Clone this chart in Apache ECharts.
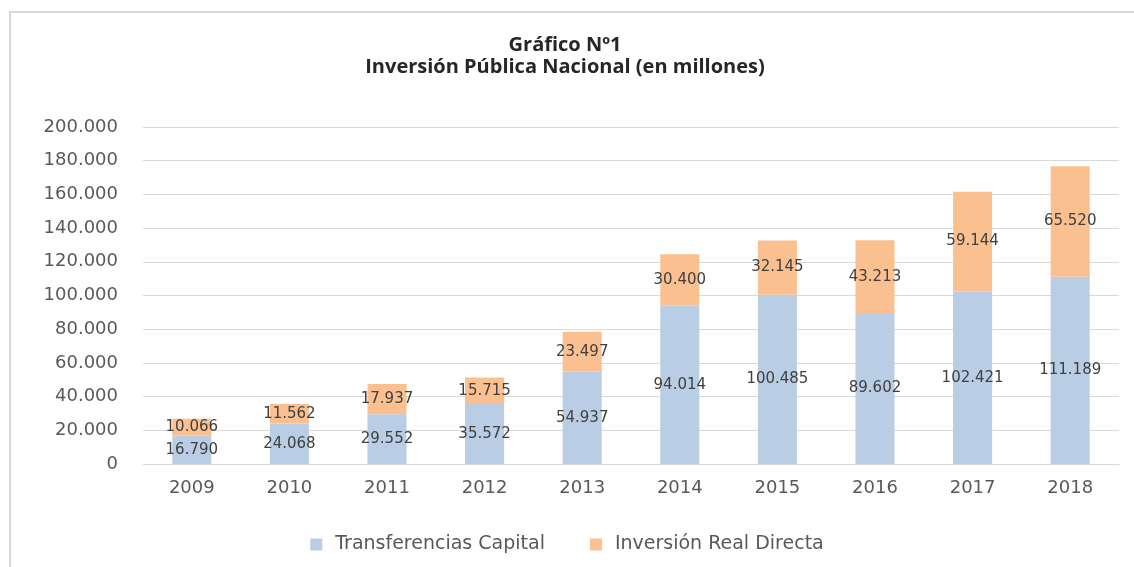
<!DOCTYPE html>
<html>
<head>
<meta charset="utf-8">
<script src="https://cdn.jsdelivr.net/npm/echarts@6/dist/echarts.min.js"></script>
<style>
html,body{margin:0;padding:0;background:#fff;}
#chart{width:1134px;height:567px;}
</style>
</head>
<body>
<div id="chart"></div>
<script>
var years = ['2009','2010','2011','2012','2013','2014','2015','2016','2017','2018'];
var transferencias = [16790, 24068, 29552, 35572, 54937, 94014, 100485, 89602, 102421, 111189];
var inversionReal = [10066, 11562, 17937, 15715, 23497, 30400, 32145, 43213, 59144, 65520];

// separador de miles con punto
function miles(v){
	return String(v).replace(/\B(?=(\d{3})+(?!\d))/g, '.');
}

var mycharts = echarts.init(document.getElementById('chart'));
var option = {
	backgroundColor: '#fff',
	graphic: [{
		type: 'rect',
		shape: {x: 10, y: 12, width: 1140, height: 570},
		style: {fill: 'none', stroke: '#D9D9D9', lineWidth: 2},
		silent: true
	}],
	title: {
		text: 'Gráfico Nº1\nInversión Pública Nacional (en millones)',
		left: 560,
		top: 29,
		textAlign: 'center',
		textStyle: {
			fontFamily: 'Open Sans',
			fontWeight: 'bold',
			fontSize: 20,
			lineHeight: 22,
			color: '#262626'
		}
	},
	legend: {
		bottom: 8,
		left: 'center',
		itemGap: 45,
		itemWidth: 12,
		itemHeight: 12,
		icon: 'rect',
		textStyle: {fontFamily: 'DejaVu Sans', fontSize: 19, color: '#595959', padding: [0, 0, 0, 8]},
		data: ['Transferencias Capital', 'Inversión Real Directa']
	},
	grid: {left: 143, right: 15, top: 127, bottom: 103},
	xAxis: {
		type: 'category',
		data: years,
		axisTick: {show: false},
		axisLine: {lineStyle: {color: '#D9D9D9', width: 1}},
		axisLabel: {fontFamily: 'DejaVu Sans', fontSize: 18, color: '#595959', margin: 15}
	},
	yAxis: {
		type: 'value',
		min: 0,
		max: 200000,
		interval: 20000,
		axisLine: {show: false},
		axisTick: {show: false},
		splitLine: {lineStyle: {color: '#D9D9D9', width: 1}},
		axisLabel: {
			fontFamily: 'DejaVu Sans', fontSize: 18, color: '#595959', margin: 25,
			formatter: function(v){ return miles(v); }
		}
	},
	series: [{
		name: 'Transferencias Capital',
		type: 'bar',
		stack: 'total',
		barWidth: '40%',
		itemStyle: {color: '#B9CDE5'},
		label: {
			show: true, position: 'inside',
			fontFamily: 'DejaVu Sans', fontSize: 15, color: '#404040',
			formatter: function(p){ return miles(p.value); }
		},
		data: transferencias
	}, {
		name: 'Inversión Real Directa',
		type: 'bar',
		stack: 'total',
		barWidth: '40%',
		itemStyle: {color: '#FAC090'},
		label: {
			show: true, position: 'inside',
			fontFamily: 'DejaVu Sans', fontSize: 15, color: '#404040',
			formatter: function(p){ return miles(p.value); }
		},
		data: inversionReal
	}]
};
mycharts.setOption(option);
</script>
</body>
</html>
